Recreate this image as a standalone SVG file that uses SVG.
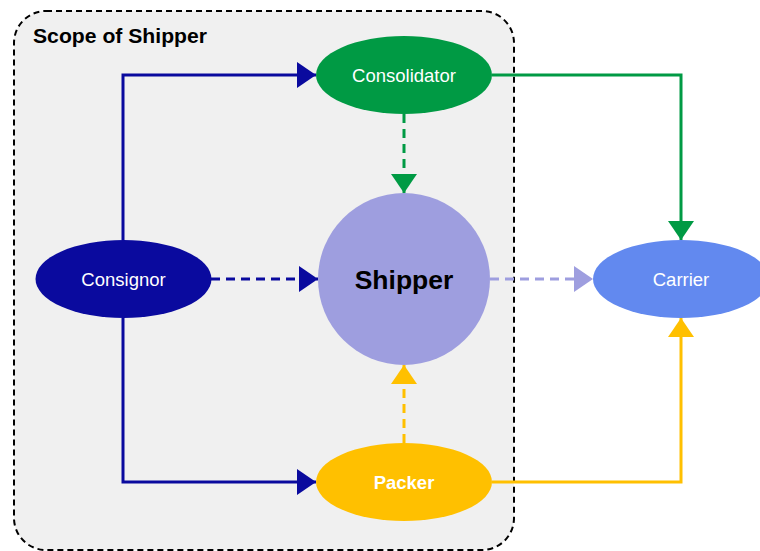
<svg xmlns="http://www.w3.org/2000/svg" width="760" height="551" viewBox="0 0 760 551">
<defs>
<style>
.lbl{font-family:"Liberation Sans",Arial,sans-serif;font-size:18.5px;fill:#fff;text-anchor:middle;dominant-baseline:central}
.ln{fill:none;stroke-width:3}
.d{stroke-dasharray:9 6}
</style>
<marker id="aB" viewBox="0 0 19 26" refX="19" refY="13" markerWidth="19" markerHeight="26" markerUnits="userSpaceOnUse" orient="auto"><path d="M0,0 L19,13 L0,26 Z" fill="#0a0a9e"/></marker>
<marker id="aG" viewBox="0 0 19 26" refX="19" refY="13" markerWidth="19" markerHeight="26" markerUnits="userSpaceOnUse" orient="auto"><path d="M0,0 L19,13 L0,26 Z" fill="#009a44"/></marker>
<marker id="aL" viewBox="0 0 19 26" refX="19" refY="13" markerWidth="19" markerHeight="26" markerUnits="userSpaceOnUse" orient="auto"><path d="M0,0 L19,13 L0,26 Z" fill="#9e9edf"/></marker>
<marker id="aY" viewBox="0 0 19 26" refX="19" refY="13" markerWidth="19" markerHeight="26" markerUnits="userSpaceOnUse" orient="auto"><path d="M0,0 L19,13 L0,26 Z" fill="#ffc000"/></marker>
</defs>
<rect width="760" height="551" fill="#fff"/>
<g id="scope">
<rect x="14" y="11" width="500" height="539" rx="32" ry="32" fill="#f0f0f0" stroke="#000" stroke-width="2" stroke-dasharray="6 4"/>
<text x="33" y="43" font-family="'Liberation Sans',Arial,sans-serif" font-size="20" font-weight="bold" fill="#000" textLength="174" lengthAdjust="spacingAndGlyphs">Scope of Shipper</text>
</g>
<g id="connectors">
<path class="ln" stroke="#0a0a9e" d="M123,240 V75 H316" marker-end="url(#aB)"/>
<path class="ln" stroke="#0a0a9e" d="M123,318 V482 H316" marker-end="url(#aB)"/>
<path class="ln d" stroke="#0a0a9e" d="M211,279 H318" marker-end="url(#aB)"/>
<path class="ln d" stroke="#009a44" d="M404,114 V193" marker-end="url(#aG)"/>
<path class="ln" stroke="#009a44" d="M492,75 H681 V240" marker-end="url(#aG)"/>
<path class="ln d" stroke="#9e9edf" d="M490,279 H593" marker-end="url(#aL)"/>
<path class="ln d" stroke="#ffc000" d="M404,443 V365" marker-end="url(#aY)"/>
<path class="ln" stroke="#ffc000" d="M492,482 H681 V318" marker-end="url(#aY)"/>
</g>
<g id="consolidator">
<ellipse cx="404" cy="75" rx="88" ry="39" fill="#009a44"/>
<text class="lbl" x="404" y="75">Consolidator</text>
</g>
<g id="shipper">
<circle cx="404" cy="279" r="86" fill="#9e9edf"/>
<text x="404" y="280" font-family="'Liberation Sans',Arial,sans-serif" font-size="26.5" font-weight="bold" fill="#000" text-anchor="middle" dominant-baseline="central">Shipper</text>
</g>
<g id="consignor">
<ellipse cx="123.5" cy="279" rx="88" ry="39" fill="#0a0a9e"/>
<text class="lbl" x="123.5" y="279">Consignor</text>
</g>
<g id="carrier">
<ellipse cx="681" cy="279" rx="88" ry="39" fill="#6289ef"/>
<text class="lbl" x="681" y="279">Carrier</text>
</g>
<g id="packer">
<ellipse cx="404" cy="482" rx="88" ry="39" fill="#ffc000"/>
<text class="lbl" x="404" y="482" font-weight="bold">Packer</text>
</g>
</svg>
